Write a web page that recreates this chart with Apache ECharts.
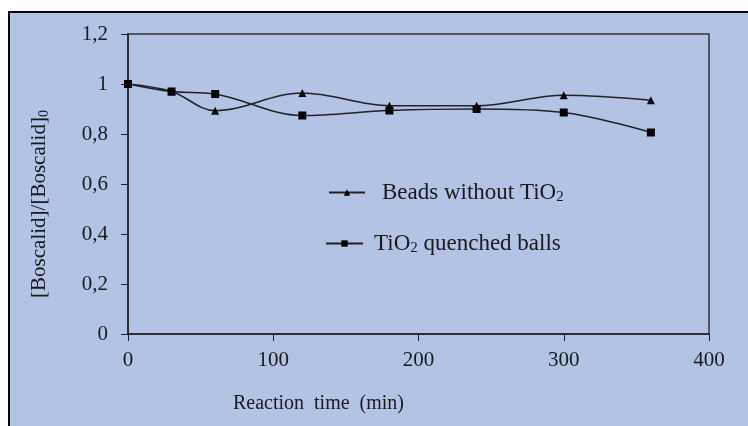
<!DOCTYPE html>
<html>
<head>
<meta charset="utf-8">
<script src="https://cdn.jsdelivr.net/npm/echarts@6/dist/echarts.min.js"></script>
<style>
  html, body { margin: 0; padding: 0; background: #fff; }
  #chart { width: 748px; height: 426px; }
</style>
</head>
<body>
<div id="chart"></div>
<script>
// reaction time (min)
const times = [0, 30, 60, 120, 180, 240, 300, 360];
// [Boscalid]/[Boscalid]0
const beadsWithoutTiO2 = [1.0, 0.97, 0.893, 0.964, 0.913, 0.913, 0.955, 0.935];
const tio2QuenchedBalls = [1.0, 0.97, 0.96, 0.874, 0.894, 0.9, 0.886, 0.806];
const seriesNames = ['Beads without TiO2', 'TiO2 quenched balls'];

const serif = '"Liberation Serif", "DejaVu Serif", serif';
const ink = '#1a1a1a';

function pairs(ys) {
    return times.map((t, i) => [t, ys[i]]);
}

const richText = {
    a: { fontFamily: serif, fontSize: 23, color: ink },
    s: { fontFamily: serif, fontSize: 15, color: ink, padding: [10, 0, 0, 0] }
};

function legendFormatter(name) {
    if (name === seriesNames[0]) return '{a|Beads without TiO}{s|2}';
    return '{a|TiO}{s|2}{a| quenched balls}';
}

let chart = echarts.init(document.getElementById('chart'));

let option = {
    backgroundColor: 'transparent',
    animation: false,
    graphic: [{
        type: 'rect',
        z: -10,
        shape: { x: 9, y: 12, width: 800, height: 500 },
        style: { fill: '#B2C3E5', stroke: '#000', lineWidth: 2 }
    }],
    grid: {
        left: 128, right: 39, top: 34, bottom: 92,
        show: true,
        borderColor: '#333',
        borderWidth: 1.5,
        backgroundColor: 'transparent'
    },
    legend: [{
        data: [seriesNames[0]],
        left: 323, top: 176,
        orient: 'vertical',
        itemWidth: 36, itemHeight: 8,
        formatter: legendFormatter,
        textStyle: { rich: richText, padding: [0, 0, 0, 12] }
    }, {
        data: [seriesNames[1]],
        left: 320, top: 227,
        orient: 'vertical',
        itemWidth: 37, itemHeight: 8,
        formatter: legendFormatter,
        textStyle: { rich: richText, padding: [0, 0, 0, 6] }
    }],
    xAxis: {
        type: 'value',
        min: 0, max: 400, interval: 100,
        name: 'Reaction  time  (min)',
        nameLocation: 'middle',
        nameGap: 60,
        nameTextStyle: { fontFamily: serif, fontSize: 20, color: ink, padding: [0, 200, 0, 0] },
        axisLine: { lineStyle: { color: '#222', width: 1.5 } },
        axisTick: { inside: false, length: 7, lineStyle: { color: '#222' } },
        axisLabel: { fontFamily: serif, fontSize: 21, color: ink, margin: 16 },
        splitLine: { show: false }
    },
    yAxis: {
        type: 'value',
        min: 0, max: 1.2, interval: 0.2,
        name: '{a|[Boscalid]/[Boscalid]}{s|0}',
        nameLocation: 'middle',
        nameGap: 77,
        nameTextStyle: {
            padding: [0, 40, 0, 0],
            rich: {
                a: { fontFamily: serif, fontSize: 21, color: ink },
                s: { fontFamily: serif, fontSize: 14, color: ink, padding: [9, 0, 0, 0] }
            }
        },
        axisLine: { show: true, lineStyle: { color: '#222', width: 1.5 } },
        axisTick: { show: true, length: 7, lineStyle: { color: '#222' } },
        axisLabel: {
            fontFamily: serif, fontSize: 21, color: ink, margin: 20,
            formatter: v => String(Math.round(v * 10) / 10).replace('.', ',')
        },
        splitLine: { show: false }
    },
    series: [{
        name: seriesNames[0],
        type: 'line',
        smooth: 0.35,
        data: pairs(beadsWithoutTiO2),
        symbol: 'triangle',
        symbolSize: 8,
        itemStyle: { color: '#000' },
        lineStyle: { color: '#222', width: 1.5 }
    }, {
        name: seriesNames[1],
        type: 'line',
        smooth: 0.35,
        data: pairs(tio2QuenchedBalls),
        symbol: 'rect',
        symbolSize: 8,
        itemStyle: { color: '#000' },
        lineStyle: { color: '#222', width: 1.5 }
    }]
};

chart.setOption(option);

window.addEventListener('resize', function() {
    chart.resize();
});
</script>
</body>
</html>
